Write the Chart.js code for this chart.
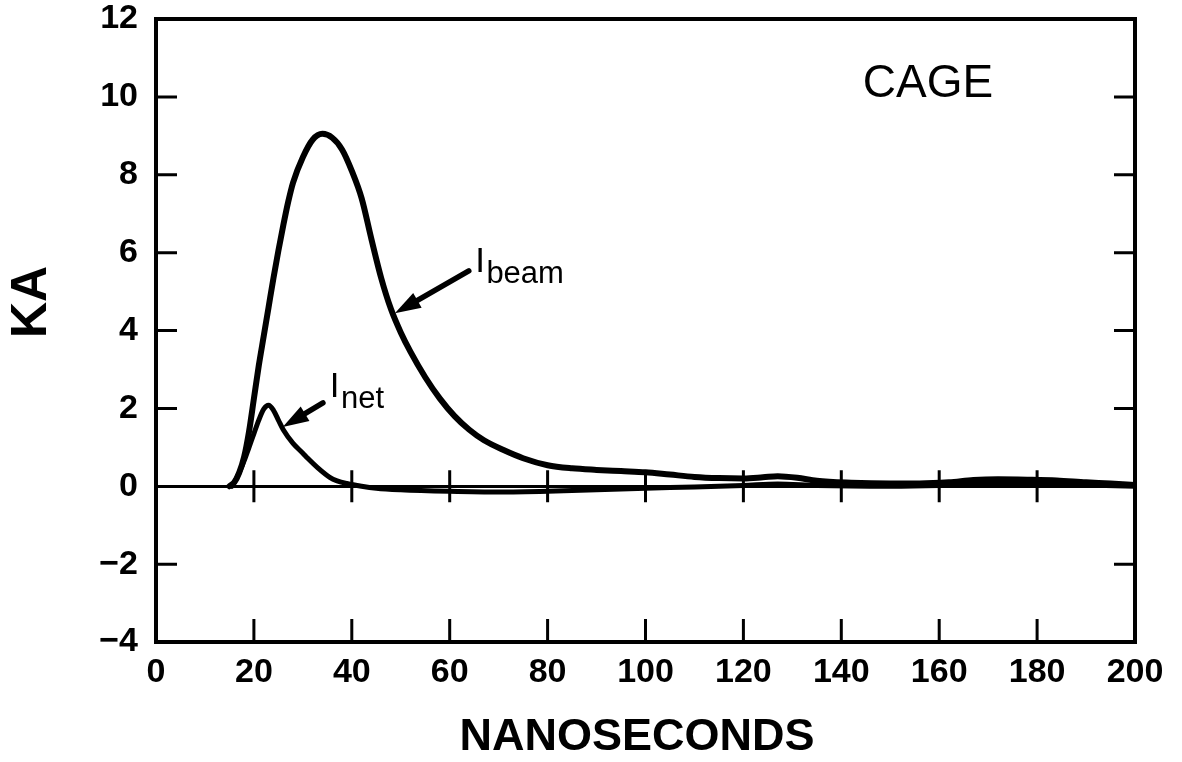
<!DOCTYPE html>
<html>
<head>
<meta charset="utf-8">
<script src="https://cdn.jsdelivr.net/npm/chart.js@4.4.0/dist/chart.umd.min.js"></script>
<style>
html,body{margin:0;padding:0;background:#fff;}
#wrap{width:1182px;height:762px;position:relative;}
canvas{display:block;}
</style>
</head>
<body>
<div id="wrap"><canvas id="c" width="1182" height="762"></canvas></div>
<script>
// ---- data ----
const beamTime = [15, 16, 17, 18, 19, 20, 21, 22, 23, 24, 25, 26, 27, 28, 30, 32, 34, 36, 38, 40, 42, 44, 46, 48, 50, 52, 55, 58, 61, 64, 67, 71, 75, 80, 85, 90, 95, 100, 105, 110, 115, 120, 124, 127, 131, 135, 142, 150, 156, 162, 167, 172, 178, 184, 190, 195, 200];
const beamKA   = [0, 0.1, 0.35, 0.75, 1.4, 2.25, 3.1, 3.85, 4.6, 5.35, 6.05, 6.7, 7.3, 7.8, 8.45, 8.9, 9.05, 8.95, 8.65, 8.1, 7.4, 6.35, 5.35, 4.55, 3.95, 3.45, 2.8, 2.25, 1.8, 1.45, 1.18, 0.93, 0.72, 0.54, 0.46, 0.42, 0.39, 0.36, 0.3, 0.24, 0.21, 0.2, 0.23, 0.26, 0.22, 0.14, 0.09, 0.07, 0.07, 0.1, 0.16, 0.18, 0.17, 0.15, 0.1, 0.07, 0.03];
const netTime  = [15.5, 16, 17, 18, 19, 20, 21, 22, 23, 24, 25, 26, 28, 30, 31, 33, 35.5, 37, 39, 42, 45, 50, 60, 70, 80, 90, 100, 110, 120, 127, 135, 150, 160, 170, 180, 190, 200];
const netKA    = [0, 0.1, 0.35, 0.65, 1.0, 1.35, 1.7, 1.98, 2.08, 1.95, 1.7, 1.45, 1.1, 0.85, 0.72, 0.48, 0.23, 0.14, 0.07, 0.0, -0.05, -0.09, -0.13, -0.15, -0.13, -0.09, -0.05, -0.02, 0.02, 0.06, 0.02, 0.0, 0.02, 0.07, 0.06, 0.03, 0.0];
const xTickValues = [0, 20, 40, 60, 80, 100, 120, 140, 160, 180, 200];
const xTickLabels = ['0', '20', '40', '60', '80', '100', '120', '140', '160', '180', '200'];
const yTickValues = [-4, -2, 0, 2, 4, 6, 8, 10, 12];
const yTickLabels = ['\u22124', '\u22122', '0', '2', '4', '6', '8', '10', '12'];
const xTitle = 'NANOSECONDS';
const yTitle = 'KA';
const panelLabel = 'CAGE';

const FONT = '"Liberation Sans", Arial, Helvetica, sans-serif';

function toPoints(xs, ys) { return xs.map((x, i) => ({x: x, y: ys[i]})); }

const decor = {
  id: 'decor',
  afterDraw(chart) {
    const ctx = chart.ctx;
    const xs = chart.scales.x, ys = chart.scales.y;
    const a = chart.chartArea;
    const X = v => xs.getPixelForValue(v);
    const Y = v => ys.getPixelForValue(v);
    ctx.save();
    ctx.strokeStyle = '#000';
    ctx.fillStyle = '#000';
    ctx.lineCap = 'butt';
    // frame
    ctx.lineWidth = 4;
    ctx.strokeRect(a.left, a.top, a.right - a.left, a.bottom - a.top);
    // inward ticks on left and right
    ctx.lineWidth = 3;
    const y0 = Y(0);
    yTickValues.forEach(v => {
      if (v === 0 || v === ys.min || v === ys.max) return;
      const py = Y(v);
      ctx.beginPath();
      ctx.moveTo(a.left, py); ctx.lineTo(a.left + 21, py);
      ctx.moveTo(a.right, py); ctx.lineTo(a.right - 21, py);
      ctx.stroke();
    });
    // inward ticks on bottom and crossing ticks on the zero line
    xTickValues.forEach(v => {
      if (v === xs.min || v === xs.max) return;
      const px = X(v);
      ctx.beginPath();
      ctx.moveTo(px, a.bottom); ctx.lineTo(px, a.bottom - 23);
      ctx.moveTo(px, y0 - 16); ctx.lineTo(px, y0 + 16);
      ctx.stroke();
    });
    // arrows
    function arrow(tx, ty, hx, hy) {
      const x1 = X(tx), y1 = Y(ty), x2 = X(hx), y2 = Y(hy);
      const ang = Math.atan2(y2 - y1, x2 - x1);
      const L = 26, W = 8.5;
      const bx = x2 - L * Math.cos(ang), by = y2 - L * Math.sin(ang);
      ctx.lineWidth = 5.5;
      ctx.lineCap = 'round';
      ctx.beginPath(); ctx.moveTo(x1, y1); ctx.lineTo(bx + 4 * Math.cos(ang), by + 4 * Math.sin(ang)); ctx.stroke();
      ctx.beginPath();
      ctx.moveTo(x2, y2);
      ctx.lineTo(bx + W * Math.sin(ang), by - W * Math.cos(ang));
      ctx.lineTo(bx - W * Math.sin(ang), by + W * Math.cos(ang));
      ctx.closePath(); ctx.fill();
    }
    arrow(63.9, 5.53, 48.8, 4.44);
    arrow(34.1, 2.14, 25.9, 1.52);
    // I labels with subscripts
    function ilabel(xv, yv, sub) {
      const px = X(xv), py = Y(yv);
      ctx.font = '35px ' + FONT;
      ctx.textAlign = 'left'; ctx.textBaseline = 'alphabetic';
      ctx.fillText('I', px, py);
      const w = ctx.measureText('I').width;
      ctx.font = '31px ' + FONT;
      ctx.fillText(sub, px + w + 1.5, py + 11);
    }
    ilabel(65.2, 5.5, 'beam');
    ilabel(35.5, 2.29, 'net');
    // panel label
    ctx.font = '46px ' + FONT;
    ctx.textAlign = 'center'; ctx.textBaseline = 'middle';
    ctx.fillText(panelLabel, X(157.7), Y(10.33));
    // axis titles
    ctx.font = 'bold 45px ' + FONT;
    ctx.fillText(xTitle, 637, 738);
    ctx.save();
    ctx.translate(32, 302);
    ctx.rotate(-Math.PI / 2);
    ctx.font = 'bold 50px ' + FONT;
    ctx.fillText(yTitle, 0, 0);
    ctx.restore();
    ctx.restore();
  }
};

new Chart(document.getElementById('c'), {
  type: 'line',
  data: {
    datasets: [
      { label: 'I beam', data: toPoints(beamTime, beamKA), borderColor: '#000', borderWidth: 6,
        pointRadius: 0, fill: false, cubicInterpolationMode: 'monotone', borderCapStyle: 'round', borderJoinStyle: 'round' },
      { label: 'I net', data: toPoints(netTime, netKA), borderColor: '#000', borderWidth: 5,
        pointRadius: 0, fill: false, cubicInterpolationMode: 'monotone', borderCapStyle: 'round', borderJoinStyle: 'round' }
    ]
  },
  options: {
    responsive: false,
    animation: false,
    layout: { padding: { top: 19, right: 47, bottom: 0, left: 0 } },
    plugins: { legend: { display: false }, tooltip: { enabled: false } },
    scales: {
      x: {
        type: 'linear', min: 0, max: 200,
        afterBuildTicks: s => { s.ticks = xTickValues.map(v => ({value: v})); },
        afterFit: s => { s.height = 120; s.paddingLeft = 0; s.paddingRight = 0; },
        ticks: {
          callback: (v, i) => xTickLabels[i],
          color: '#000', padding: 10, maxRotation: 0, autoSkip: false,
          font: { family: FONT, size: 34, weight: 'bold' }
        },
        grid: { display: false, drawTicks: false },
        border: { display: false }
      },
      y: {
        type: 'linear', min: -4, max: 12,
        afterBuildTicks: s => { s.ticks = yTickValues.map(v => ({value: v})); },
        afterFit: s => { s.width = 156; s.paddingTop = 0; s.paddingBottom = 0; },
        ticks: {
          callback: (v, i) => yTickLabels[i],
          color: '#000', padding: 18, autoSkip: false,
          font: { family: FONT, size: 34, weight: 'bold' }
        },
        grid: {
          drawTicks: false,
          color: c => (c.tick && c.tick.value === 0) ? '#000' : 'rgba(0,0,0,0)',
          lineWidth: c => (c.tick && c.tick.value === 0) ? 3 : 0
        },
        border: { display: false }
      }
    }
  },
  plugins: [decor]
});
</script>
</body>
</html>
